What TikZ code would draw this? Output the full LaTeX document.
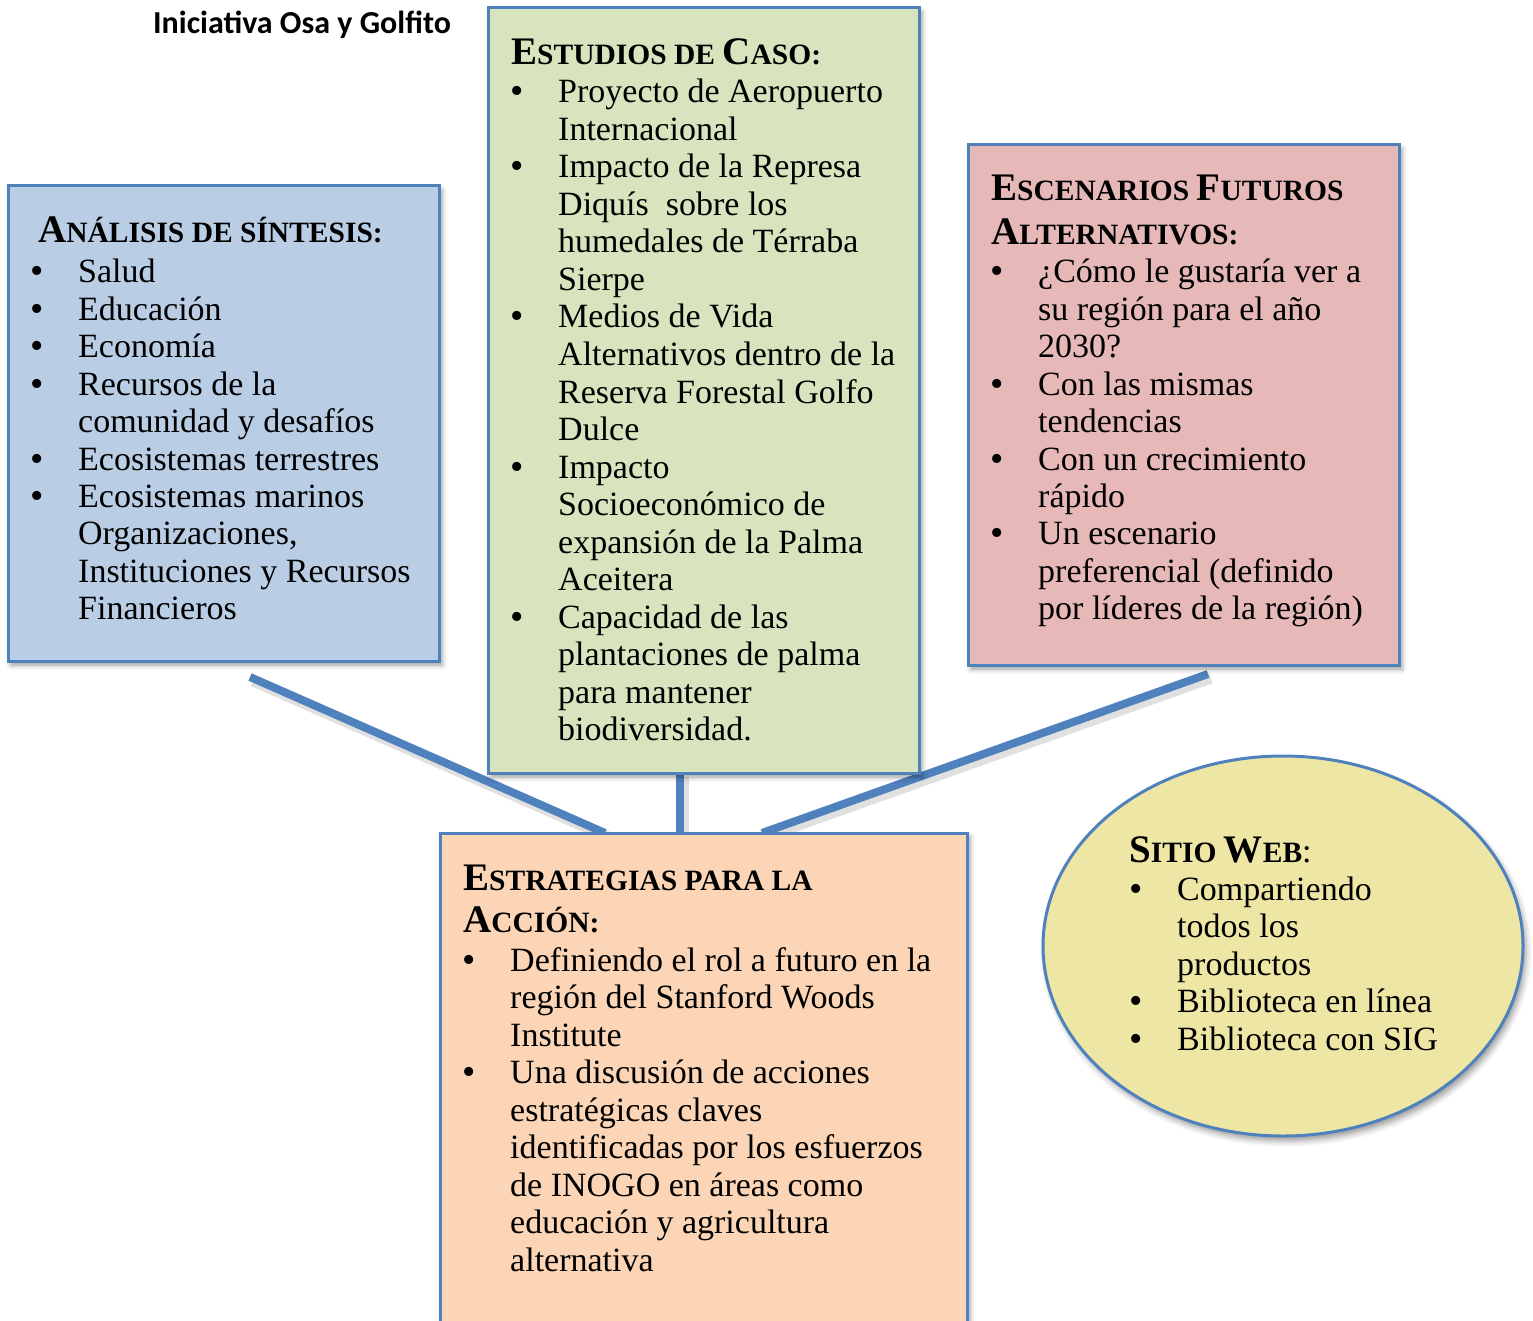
\documentclass[tikz,border=0pt]{standalone}
\usepackage{fontspec}
\setmainfont{Liberation Serif}
\newfontfamily\titlefont{Carlito}
\usetikzlibrary{shadows.blur,shapes.geometric}
\definecolor{bord}{HTML}{4F81BD}
\definecolor{fblue}{HTML}{B9CDE5}
\definecolor{fgreen}{HTML}{D7E4BD}
\definecolor{fpink}{HTML}{E6B9B8}
\definecolor{forange}{HTML}{FBD5B5}
\definecolor{fyellow}{HTML}{EEE6A5}
\newcommand\bigc[1]{{\fontsize{39}{44}\selectfont #1}}
\newcommand\smc[1]{{\fontsize{29.5}{44}\selectfont #1}}
\newcommand\bulglyph{{\fontsize{38}{37.5}\selectfont\raisebox{-1pt}{\textbullet}}}
\begin{document}
\begin{tikzpicture}[x=1pt,y=-1pt,
  box/.style={draw=bord, line width=3pt, inner sep=0pt, outer sep=0pt, anchor=north west,
    blur shadow={shadow xshift=3pt, shadow yshift=-4pt, shadow blur radius=5pt, shadow opacity=40}},
  txt/.style={anchor=base west, inner sep=0pt, font=\fontsize{34}{37.5}\selectfont},
  bul/.style={anchor=base, inner sep=0pt},
  hd/.style={anchor=base west, inner sep=0pt, font=\bfseries},
  conn/.style={draw=bord, line width=8pt},
  connsh/.style={draw=black, opacity=0.12, line width=11pt}
]
\useasboundingbox (0,0) rectangle (1533,1321);
\clip (0,0) rectangle (1533,1321);

% free ends of connectors
\coordinate (l1a) at (250,677);
\coordinate (l1b) at (605,833);
\coordinate (l2a) at (680,773);
\coordinate (l2b) at (680,833);
\coordinate (l3a) at (1208,674);
\coordinate (l3b) at (762,833);

% connector shadows
\draw[connsh] ([shift={(3,4)}]l1a) -- ([shift={(3,4)}]l1b);
\draw[connsh] ([shift={(3,4)}]l2a) -- ([shift={(3,4)}]l2b);
\draw[connsh] ([shift={(3,4)}]l3a) -- ([shift={(3,4)}]l3b);
% connectors
\draw[conn] (l1a) -- (l1b);
\draw[conn] (l2a) -- (l2b);
\draw[conn] (l3a) -- (l3b);

% boxes
\node[box, fill=fblue, minimum width=431pt, minimum height=475pt] (analisis) at (8,186) {};
\node[box, fill=fgreen, minimum width=431pt, minimum height=765pt] (estudios) at (488,8) {};
\node[box, fill=fpink, minimum width=431pt, minimum height=520pt] (escenarios) at (968,145) {};
\node[box, fill=forange, minimum width=527pt, minimum height=520pt] (estrategias) at (440,833) {};
\node[draw=bord, line width=3pt, fill=fyellow, ellipse, minimum width=480pt, minimum height=380pt, inner sep=0pt,
  blur shadow={shadow xshift=3pt, shadow yshift=-5pt, shadow blur radius=6pt, shadow opacity=40}] (web) at (1283,946) {};

% title
\node[anchor=base west, inner sep=0pt, font=\titlefont\bfseries\fontsize{32}{38}\selectfont] (title) at (153,34) {Iniciativa Osa y Golfito};

% headings
\node[hd] (h1) at (38,243) {\bigc{A}\smc{NÁLISIS DE SÍNTESIS:}};
\node[hd] (h2) at (511,65) {\bigc{E}\smc{STUDIOS DE }\bigc{C}\smc{ASO:}};
\node[hd] (h3a) at (991,201) {\bigc{E}\smc{SCENARIOS }\bigc{F}\smc{UTUROS}};
\node[hd] (h3b) at (991,245) {\bigc{A}\smc{LTERNATIVOS:}};
\node[hd] (h4a) at (463,890) {\bigc{E}\smc{STRATEGIAS PARA LA}};
\node[hd] (h4b) at (463,932) {\bigc{A}\smc{CCIÓN:}};
\node[hd] (h5) at (1129,862) {\bigc{S}\smc{ITIO }\bigc{W}\smc{EB}{\mdseries\fontsize{34}{40}\selectfont:}};

% box 1 text
\foreach \t [count=\i] in {Salud, Educación, Economía, Recursos de la, comunidad y desafíos,
  Ecosistemas terrestres, Ecosistemas marinos, {Organizaciones,}, Instituciones y Recursos, Financieros}
  \node[txt] (a\i) at (78,{283+37.4*(\i-1)}) {\t};
\foreach \i in {1,2,3,4,6,7}
  \node[bul] (ab\i) at (37,{283+37.4*(\i-1)}) {\bulglyph};

% box 2 text
\foreach \t [count=\i] in {Proyecto de Aeropuerto, Internacional, Impacto de la Represa,
  Diquís\ \ sobre los, humedales de Térraba, Sierpe, Medios de Vida, Alternativos dentro de la,
  Reserva Forestal Golfo, Dulce, Impacto, Socioeconómico de, expansión de la Palma, Aceitera,
  Capacidad de las, plantaciones de palma, para mantener, biodiversidad.}
  \node[txt] (e\i) at (558,{103+37.5*(\i-1)}) {\t};
\foreach \i in {1,3,7,11,15}
  \node[bul] (eb\i) at (517,{103+37.5*(\i-1)}) {\bulglyph};

% box 3 text
\foreach \t [count=\i] in {¿Cómo le gustaría ver a, su región para el año, 2030?, Con las mismas,
  tendencias, Con un crecimiento, rápido, Un escenario, preferencial (definido, por líderes de la región)}
  \node[txt] (s\i) at (1038,{283+37.4*(\i-1)}) {\t};
\foreach \i in {1,4,6,8}
  \node[bul] (sb\i) at (997,{283+37.4*(\i-1)}) {\bulglyph};

% box 4 text
\foreach \t [count=\i] in {Definiendo el rol a futuro en la, región del Stanford Woods, Institute,
  Una discusión de acciones, estratégicas claves, identificadas por los esfuerzos,
  de INOGO en áreas como, educación y agricultura, alternativa}
  \node[txt] (r\i) at (510,{971+37.5*(\i-1)}) {\t};
\foreach \i in {1,4}
  \node[bul] (rb\i) at (469,{971+37.5*(\i-1)}) {\bulglyph};

% ellipse text
\foreach \t [count=\i] in {Compartiendo, todos los, productos, Biblioteca en línea, Biblioteca con SIG}
  \node[txt] (w\i) at (1177,{900+37.5*(\i-1)}) {\t};
\foreach \i in {1,4,5}
  \node[bul] (wb\i) at (1136,{900+37.5*(\i-1)}) {\bulglyph};
\end{tikzpicture}
\end{document}
